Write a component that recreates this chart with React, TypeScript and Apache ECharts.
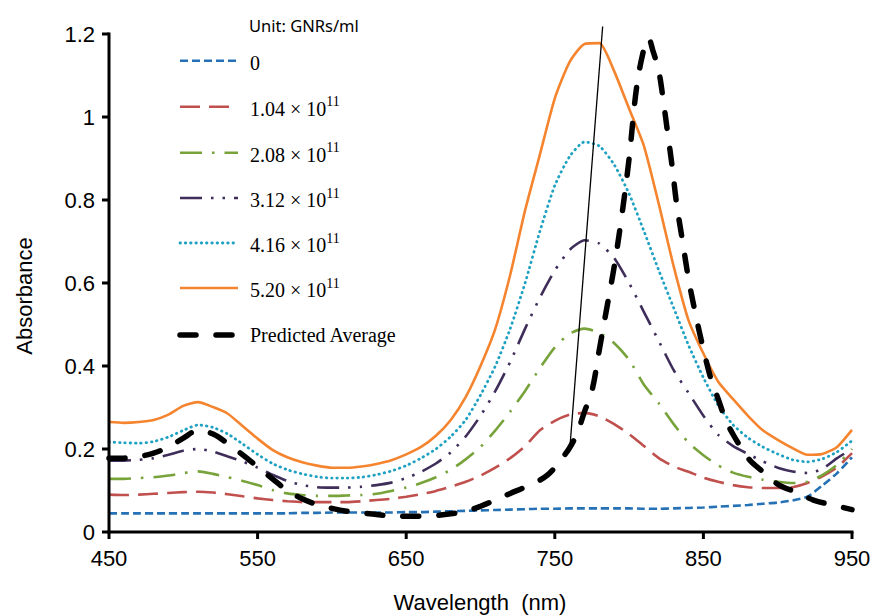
import React, { useEffect, useRef } from 'react';
import * as echarts from 'echarts';

const X_START = 450;
const X_SPAN = 500;
const X_STEP = 100;
const Y_MAX = 1.2;
const Y_STEP = 0.2;

const wavelengths = [
  450, 460, 470, 480, 490, 500, 510, 520, 530, 540,
  550, 560, 570, 580, 590, 600, 610, 620, 630, 640,
  650, 660, 670, 680, 690, 700, 710, 720, 730, 740,
  750, 760, 770, 780, 790, 800, 810, 820, 830, 840,
  850, 860, 870, 880, 890, 900, 910, 920, 930, 940,
  950,
];

const abs0 = [
  0.045, 0.045, 0.045, 0.045, 0.045, 0.045, 0.045, 0.045, 0.045, 0.045,
  0.045, 0.045, 0.045, 0.046, 0.046, 0.047, 0.047, 0.047, 0.047, 0.047,
  0.048, 0.048, 0.049, 0.050, 0.051, 0.052, 0.053, 0.054, 0.055, 0.056,
  0.056, 0.057, 0.057, 0.057, 0.057, 0.057, 0.056, 0.056, 0.057, 0.058,
  0.059, 0.061, 0.063, 0.065, 0.068, 0.071, 0.076, 0.085, 0.112, 0.142,
  0.180,
];

const abs104 = [
  0.090, 0.089, 0.090, 0.092, 0.094, 0.096, 0.097, 0.095, 0.091, 0.086,
  0.081, 0.077, 0.074, 0.072, 0.072, 0.072, 0.072, 0.074, 0.077, 0.080,
  0.085, 0.091, 0.099, 0.109, 0.121, 0.136, 0.155, 0.178, 0.207, 0.245,
  0.268, 0.283, 0.287, 0.279, 0.260, 0.236, 0.207, 0.178, 0.158, 0.145,
  0.131, 0.121, 0.113, 0.108, 0.106, 0.106, 0.108, 0.118, 0.134, 0.156,
  0.190,
];

const abs208 = [
  0.128, 0.128, 0.130, 0.132, 0.136, 0.142, 0.146, 0.140, 0.132, 0.123,
  0.113, 0.101, 0.093, 0.089, 0.087, 0.087, 0.088, 0.089, 0.092, 0.099,
  0.107, 0.118, 0.132, 0.150, 0.175, 0.205, 0.245, 0.290, 0.340, 0.395,
  0.445, 0.478, 0.490, 0.480, 0.455, 0.415, 0.355, 0.310, 0.260, 0.215,
  0.185, 0.160, 0.143, 0.133, 0.126, 0.121, 0.118, 0.121, 0.137, 0.162,
  0.200,
];

const abs312 = [
  0.172, 0.172, 0.174, 0.178, 0.186, 0.196, 0.200, 0.194, 0.182, 0.170,
  0.155, 0.138, 0.123, 0.113, 0.108, 0.107, 0.107, 0.109, 0.113, 0.119,
  0.130, 0.145, 0.165, 0.192, 0.230, 0.280, 0.340, 0.410, 0.490, 0.565,
  0.630, 0.680, 0.703, 0.695, 0.660, 0.600, 0.530, 0.460, 0.390, 0.335,
  0.280, 0.234, 0.207, 0.188, 0.170, 0.155, 0.146, 0.142, 0.152, 0.178,
  0.200,
];

const abs416 = [
  0.217, 0.215, 0.214, 0.218, 0.229, 0.245, 0.258, 0.252, 0.236, 0.212,
  0.187, 0.165, 0.150, 0.140, 0.133, 0.130, 0.130, 0.132, 0.138, 0.147,
  0.160, 0.178, 0.200, 0.230, 0.270, 0.330, 0.400, 0.490, 0.600, 0.725,
  0.835, 0.905, 0.940, 0.930, 0.885, 0.815, 0.725, 0.630, 0.540, 0.450,
  0.372, 0.305, 0.258, 0.227, 0.205, 0.188, 0.174, 0.169, 0.176, 0.193,
  0.220,
];

const abs520 = [
  0.265, 0.263, 0.265, 0.270, 0.283, 0.304, 0.313, 0.301, 0.285, 0.255,
  0.225, 0.198, 0.180, 0.168, 0.160, 0.155, 0.155, 0.158, 0.164, 0.173,
  0.187, 0.205, 0.232, 0.270, 0.325, 0.400, 0.490, 0.620, 0.775, 0.910,
  1.045, 1.133, 1.176, 1.178, 1.110, 1.020, 0.930, 0.790, 0.640, 0.510,
  0.430, 0.362, 0.320, 0.280, 0.245, 0.222, 0.202, 0.186, 0.188, 0.205,
  0.246,
];

const predictedX = [
  450, 460, 470, 480, 490, 500, 510, 520, 530, 540,
  550, 560, 570, 580, 590, 600, 610, 620, 630, 640,
  650, 660, 670, 680, 690, 700, 710, 720, 730, 740,
  745, 750, 755, 760, 765, 770, 775, 780, 785, 790, 795, 800, 805, 810,
  813, 816, 820, 823, 826, 829, 832, 836,
  840, 845, 850, 855, 860, 865, 870,
  876, 882, 893, 901, 914, 924, 937, 950,
];
const predictedY = [
  0.178, 0.178, 0.182, 0.190, 0.205, 0.226, 0.245, 0.236, 0.213, 0.186,
  0.157, 0.128, 0.100, 0.080, 0.066, 0.057, 0.050, 0.046, 0.042, 0.039,
  0.038, 0.038, 0.040, 0.044, 0.050, 0.062, 0.077, 0.093, 0.108, 0.125,
  0.137, 0.155, 0.178, 0.203, 0.238, 0.290, 0.340, 0.440, 0.540, 0.640, 0.760, 0.900, 1.070, 1.165,
  1.190, 1.160, 1.110, 1.040, 0.960, 0.880, 0.790, 0.700,
  0.610, 0.520, 0.440, 0.370, 0.320, 0.270, 0.235,
  0.200, 0.170, 0.137, 0.113, 0.094, 0.077, 0.065, 0.054,
];

const guideX = [760.2, 782.2];
const guideY = [0.205, 1.218];

const concentrations = ['0', '1.04', '2.08', '3.12', '4.16', '5.20'];
const exponent = '11';
const unitLabel = 'Unit: GNRs/ml';
const predictedLabel = 'Predicted Average';
const xTitle = 'Wavelength  (nm)';
const yTitle = 'Absorbance';

const styles = [
  { values: abs0, color: '#2471B5', dash: [8, 4], width: 2.6, cap: 'butt' },
  { values: abs104, color: '#C0504D', dash: [20, 9], width: 2.6, cap: 'butt' },
  { values: abs208, color: '#77A33A', dash: [22, 10, 2.5, 10], width: 2.6, cap: 'butt' },
  { values: abs312, color: '#3F2D5A', dash: [22, 9, 2.5, 9, 2.5, 9], width: 2.6, cap: 'butt' },
  { values: abs416, color: '#1FA2C2', dash: [0.5, 4.8], width: 2.8, cap: 'round' },
  { values: abs520, color: '#F5842F', dash: null as any, width: 2.6, cap: 'butt' },
];

const GRID = { left: 109, right: 23, top: 34, bottom: 83 };

export default function App() {
  const ref = useRef<HTMLDivElement>(null);
  useEffect(() => {
    if (!ref.current) return;
    const chart = echarts.init(ref.current, undefined, { renderer: 'svg' });

    const series: any[] = styles.map((s, i) => ({
      name: concentrations[i],
      type: 'line',
      data: wavelengths.map((w, j) => [w - X_START, s.values[j]]),
      symbol: 'none',
      smooth: 0.2,
      lineStyle: {
        color: s.color,
        width: s.width,
        type: s.dash || 'solid',
        cap: s.cap,
      },
      z: 2 + i,
    }));
    series.push({
      name: predictedLabel,
      type: 'line',
      data: predictedX.map((w, j) => [w - X_START, predictedY[j]]),
      symbol: 'none',
      smooth: 0.35,
      lineStyle: { color: '#000', width: 5.5, type: [16, 20], cap: 'round' },
      z: 10,
    });
    series.push({
      name: 'guide',
      type: 'line',
      data: guideX.map((w, j) => [w - X_START, guideY[j]]),
      symbol: 'none',
      clip: false,
      lineStyle: { color: '#000', width: 1.3 },
      z: 11,
    });

    const legendRows = [60.7, 106.7, 152.7, 198, 243, 288, 335];
    const graphic: any[] = [];
    graphic.push({
      type: 'text', x: 249, y: 25,
      style: { text: unitLabel, font: '16.5px "Noto Sans"', fill: '#000', verticalAlign: 'middle' },
    });
    styles.forEach((s, i) => {
      const y = legendRows[i];
      graphic.push({
        type: 'line',
        shape: { x1: 180, y1: y, x2: 238, y2: y },
        style: { stroke: s.color, lineWidth: s.width, lineDash: s.dash || undefined, lineCap: s.cap },
      });
      const txt = i === 0 ? '{m|' + concentrations[i] + '}' : '{m|' + concentrations[i] + ' × 10}{s|' + exponent + '}';
      graphic.push({
        type: 'text', x: 250, y,
        style: {
          text: txt,
          fill: '#000',
          verticalAlign: 'middle',
          rich: {
            m: { fontFamily: 'Liberation Serif', fontSize: 20, lineHeight: 24, verticalAlign: 'bottom', fill: '#000' },
            s: { fontFamily: 'Liberation Serif', fontSize: 14, lineHeight: 14, verticalAlign: 'top', fill: '#000' },
          },
        },
      });
    });
    const py = legendRows[6];
    graphic.push({
      type: 'line',
      shape: { x1: 180, y1: py, x2: 237, y2: py },
      style: { stroke: '#000', lineWidth: 5.5, lineDash: [16, 20], lineCap: 'round' },
    });
    graphic.push({
      type: 'text', x: 250, y: py,
      style: { text: predictedLabel, font: '20px "Liberation Serif"', fill: '#000', verticalAlign: 'middle' },
    });
    graphic.push({
      type: 'text', x: 480, y: 602,
      style: { text: xTitle, font: '22px "Liberation Sans"', fill: '#000', align: 'center', verticalAlign: 'middle' },
    });
    graphic.push({
      type: 'text', x: 24, y: 296, rotation: Math.PI / 2,
      style: { text: yTitle, font: '22px "Liberation Sans"', fill: '#000', align: 'center', verticalAlign: 'middle' },
    });

    const option: any = {
      animation: false,
      backgroundColor: '#fff',
      grid: GRID,
      xAxis: {
        type: 'value',
        min: 0,
        max: X_SPAN,
        interval: X_STEP,
        axisLine: { show: false },
        axisTick: { show: false },
        splitLine: { show: false },
        axisLabel: {
          formatter: (v: number) => String(v + X_START),
          color: '#000',
          fontFamily: 'Liberation Sans',
          fontSize: 22,
          margin: 15,
        },
      },
      yAxis: {
        type: 'value',
        min: 0,
        max: Y_MAX,
        interval: Y_STEP,
        axisLine: { show: false },
        axisTick: { show: false },
        splitLine: { show: false },
        axisLabel: {
          color: '#000',
          fontFamily: 'Liberation Sans',
          fontSize: 22,
          margin: 14,
        },
      },
      series,
      graphic,
    };
    chart.setOption(option);

    // axis lines and ticks positioned through the chart's own scales
    const toPx = (x: number, y: number) => chart.convertToPixel({ gridIndex: 0 }, [x, y]) as number[];
    const o = toPx(0, 0);
    const tr = toPx(X_SPAN, Y_MAX);
    const axisStyle = { stroke: '#000', lineWidth: 3 };
    const axes: any[] = [];
    axes.push({ type: 'line', z: 50, shape: { x1: o[0] - 1.5, y1: o[1], x2: tr[0] + 1.5, y2: o[1] }, style: axisStyle });
    axes.push({ type: 'line', z: 50, shape: { x1: o[0], y1: o[1] + 1.5, x2: o[0], y2: tr[1] - 1.5 }, style: axisStyle });
    for (let v = 0; v <= X_SPAN + 1e-9; v += X_STEP) {
      const p = toPx(v, 0);
      axes.push({ type: 'line', z: 50, shape: { x1: p[0], y1: p[1], x2: p[0], y2: p[1] + 7 }, style: axisStyle });
    }
    for (let k = 0; k * Y_STEP <= Y_MAX + 1e-9; k++) {
      const p = toPx(0, k * Y_STEP);
      axes.push({ type: 'line', z: 50, shape: { x1: p[0] - 7, y1: p[1], x2: p[0], y2: p[1] }, style: axisStyle });
    }
    chart.setOption({ graphic: graphic.concat(axes) });

    return () => chart.dispose();
  }, []);
  return (
    <div
      ref={ref}
      style={{ position: 'fixed', left: 0, top: 0, width: 875, height: 615 }}
    />
  );
}
